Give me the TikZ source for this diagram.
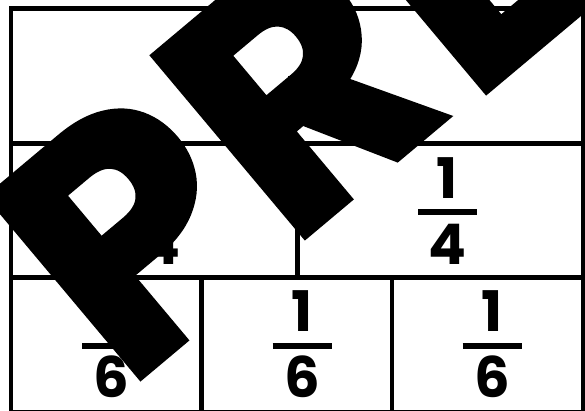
\documentclass[tikz,border=0pt]{standalone}
\usepackage{fontspec}
\newfontfamily\digitfont{Poppins}
\newfontfamily\wmfont{Poppins}[BoldFeatures={FakeBold=2}]
\newcommand\myfrac[5]{%
  \node[num] (#1n) at (#2,#3-14) {#4};
  \node[num] (#1d) at (#2,#3+52) {#5};
  \draw[fbar] (#2-29.5,#3) -- (#2+29.5,#3);}
\begin{document}
\begin{tikzpicture}[x=1pt,y=-1pt,
  grid/.style={line width=4.5pt},
  num/.style={inner sep=0pt, anchor=base, font=\digitfont\bfseries\fontsize{56}{56}\selectfont},
  fbar/.style={line width=6pt},
  wm/.style={inner sep=0pt, rotate=40, anchor=base, font=\wmfont\bfseries\fontsize{335}{335}\selectfont}]
\useasboundingbox (0,0) rectangle (585,411);
\fill[white] (0,0) rectangle (585,411);
% grid
\draw[grid] (11,8.5) rectangle (583,412);
\draw[grid] (11,143.5) -- (583,143.5);
\draw[grid] (11,277.5) -- (583,277.5);
\draw[grid] (297.5,143.5) -- (297.5,277.5);
\draw[grid] (201.5,277.5) -- (201.5,412);
\draw[grid] (392,277.5) -- (392,412);
% top bar
\draw[fbar] (288,79) -- (347,79);
% fractions
\myfrac{a}{161.5}{212.5}{1}{4}
\myfrac{b}{447.5}{212.5}{1}{4}
\myfrac{c}{111.5}{345.5}{1}{6}
\myfrac{d}{302}{345.5}{1}{6}
\myfrac{e}{492}{345.5}{1}{6}
% watermark
\begin{scope}
\clip (0,0) rectangle (585,411);
\node[wm] (wp) at (205,323) {P};
\node[wm] (wr) at (373,179) {R};
\node[wm] (we) at (540,46) {E};
\end{scope}
\end{tikzpicture}
\end{document}
